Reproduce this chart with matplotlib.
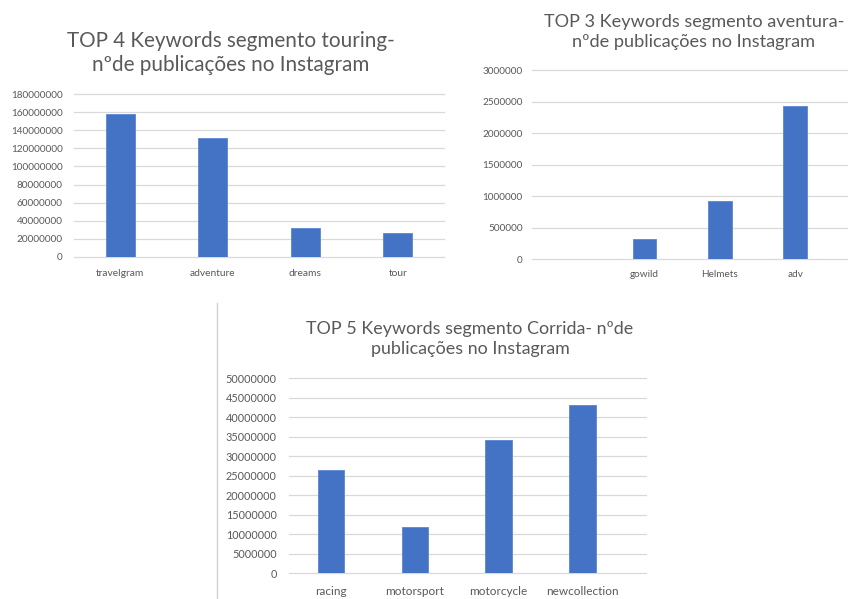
import matplotlib
matplotlib.use("Agg")
import matplotlib.pyplot as plt
from matplotlib.lines import Line2D
import numpy as np

# ---- data -------------------------------------------------------------
touring_keywords = ["travelgram", "adventure", "dreams", "tour"]
touring_posts = [158500000, 131900000, 31800000, 25900000]

aventura_keywords = ["", "gowild", "Helmets", "adv"]
aventura_posts = [np.nan, 317000, 924000, 2430000]

corrida_keywords = ["racing", "motorsport", "motorcycle", "newcollection"]
corrida_posts = [26500000, 11950000, 34100000, 43200000]

touring_ticks = list(range(0, 180000001, 20000000))
aventura_ticks = list(range(0, 3000001, 500000))
corrida_ticks = list(range(0, 50000001, 5000000))

title_touring = "TOP 4 Keywords segmento touring-\nnºde publicações no Instagram"
title_aventura = "TOP 3 Keywords segmento aventura-\nnºde publicações no Instagram"
title_corrida = "TOP 5 Keywords segmento Corrida- nºde\npublicações no Instagram"

# ---- style ------------------------------------------------------------
plt.rcParams["font.family"] = ["Lato", "DejaVu Sans"]
BAR = "#4472C4"
GRID = "#D9D9D9"
TXT = "#595959"

W, H = 848, 599
fig = plt.figure(figsize=(W / 100, H / 100), dpi=100)
fig.patch.set_facecolor("white")


def px_axes(left, top, right, bottom):
    return fig.add_axes([left / W, 1 - bottom / H, (right - left) / W, (bottom - top) / H])


def bar_panel(ax, cats, vals, ticks, xlim, tick_fs, cat_fs, ypad, xpad):
    x = np.arange(len(cats))
    ax.bar(x, vals, width=0.315, color=BAR, edgecolor="#5B86D0", linewidth=0.6, zorder=3)
    ax.set_xlim(*xlim)
    ax.set_ylim(ticks[0], ticks[-1])
    ax.set_yticks(ticks)
    ax.set_yticklabels([str(t) for t in ticks], fontsize=tick_fs, color=TXT)
    ax.set_xticks(x)
    ax.set_xticklabels(cats, fontsize=cat_fs, color=TXT)
    ax.tick_params(axis="both", length=0)
    ax.tick_params(axis="y", pad=ypad)
    ax.tick_params(axis="x", pad=xpad)
    for s in ax.spines.values():
        s.set_visible(False)
    for t in ticks:
        ax.axhline(t, color=GRID, linewidth=0.9, zorder=1, clip_on=False)
    ax.set_facecolor("none")


# touring
ax1 = px_axes(74, 94.3, 444, 256.7)
bar_panel(ax1, touring_keywords, touring_posts, touring_ticks, (-0.5, 3.5), 7.2, 7.4, 8.1, 9)
fig.text(231 / W, 1 - 53 / H, title_touring, ha="center", va="center",
         fontsize=14.9, color=TXT, linespacing=1.3)

# aventura
ax2 = px_axes(531.7, 70, 848 + 60, 259.3)
bar_panel(ax2, aventura_keywords, aventura_posts, aventura_ticks, (-0.5, 4.5), 7.2, 7.2, 6.5, 8)
fig.text(694 / W, 1 - 32 / H, title_aventura, ha="center", va="center",
         fontsize=13.1, color=TXT, linespacing=1.25)

# corrida
ax3 = px_axes(289.3, 378.3, 646, 573.3)
bar_panel(ax3, corrida_keywords, corrida_posts, corrida_ticks, (-0.5, 3.76), 7.8, 8.5, 9, 9.5)
fig.text(470 / W, 1 - 339 / H, title_corrida, ha="center", va="center",
         fontsize=12.9, color=TXT, linespacing=1.28)

# chart frame edge on the left of the lower panel
fig.add_artist(Line2D([217.3 / W, 217.3 / W], [0, 1 - 302.7 / H],
                      transform=fig.transFigure, color="#D0D0D0", linewidth=1.0))

fig.savefig("out.png", dpi=100, facecolor="white")
